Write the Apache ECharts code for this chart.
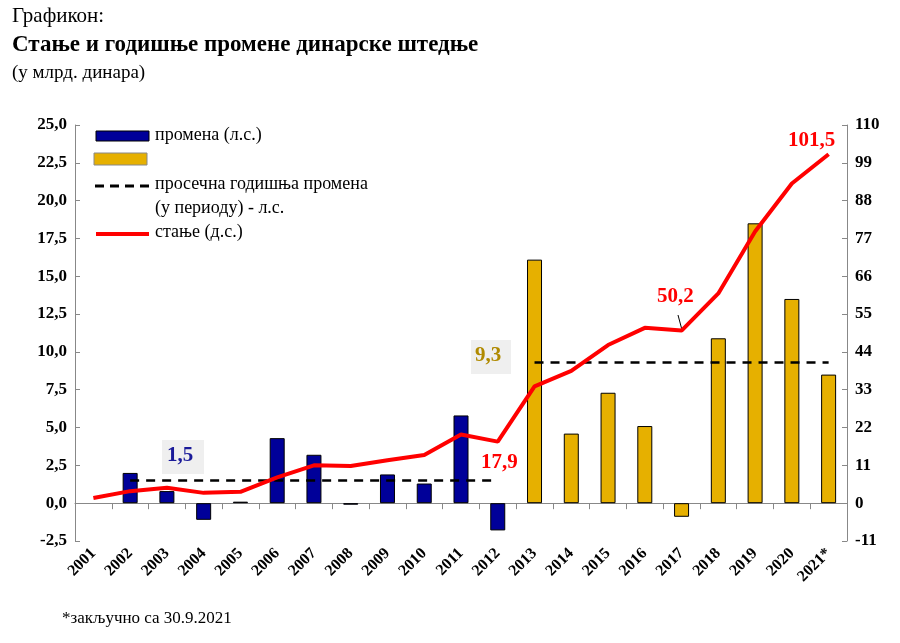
<!DOCTYPE html>
<html><head><meta charset="utf-8">
<script src="https://cdn.jsdelivr.net/npm/echarts@6/dist/echarts.min.js"></script>
<style>html,body{margin:0;padding:0;background:#fff}#c{width:900px;height:643px}</style>
</head><body><div id="c"></div>
<script>
const categories = ['2001','2002','2003','2004','2005','2006','2007','2008','2009','2010','2011','2012','2013','2014','2015','2016','2017','2018','2019','2020','2021*'];
const changeValues = [null,2.0,0.8,-1.1,0.1,4.3,3.2,-0.1,1.9,1.3,5.8,-1.8,16.1,4.6,7.3,5.1,-0.9,10.9,18.5,13.5,8.5];
const stockValues = [1.5,3.5,4.5,3.0,3.3,7.5,11.0,10.8,12.5,14.0,20.0,17.9,34.0,38.5,46.0,51.0,50.2,61.0,79.0,93.0,101.5];
const avgPeriod1 = [null,1.5,1.5,1.5,1.5,1.5,1.5,1.5,1.5,1.5,1.5,1.5,null,null,null,null,null,null,null,null,null];
const avgPeriod2 = [null,null,null,null,null,null,null,null,null,null,null,null,9.3,9.3,9.3,9.3,9.3,9.3,9.3,9.3,9.3];
const leftTicks = {min:-2.5,max:25,interval:2.5};
const rightTicks = {min:-11,max:110,interval:11};
const F = 'Liberation Serif';
const blue = '#000099', gold = '#E6B000', red = '#FF0000';
const chart = echarts.init(document.getElementById('c'));
const barData = changeValues.map((v,i)=>({value:v,itemStyle:{color: i<=11?blue:gold}}));
chart.setOption({
  animation:false,
  textStyle:{fontFamily:F},
  grid:{left:75,right:53,top:125,bottom:102},
  graphic:[
    {type:'text',left:12,top:6,style:{text:'Графикон:',font:'21px '+F,fill:'#000'}},
    {type:'text',left:12,top:34,style:{text:'Стање и годишње промене динарске штедње',font:'bold 23px '+F,fill:'#000'}},
    {type:'text',left:12,top:64,style:{text:'(у млрд. динара)',font:'19px '+F,fill:'#000'}},
    {type:'rect',shape:{x:96,y:131,width:53,height:10},style:{fill:blue,stroke:'#000',lineWidth:1}},
    {type:'text',left:155,top:126,style:{text:'промена (л.с.)',font:'18px '+F,fill:'#000'}},
    {type:'rect',shape:{x:94,y:153,width:53,height:12},style:{fill:gold,stroke:'#888',lineWidth:1}},
    {type:'line',shape:{x1:95,y1:186,x2:149,y2:186},style:{stroke:'#000',lineWidth:3,lineDash:[9,6]}},
    {type:'text',left:155,top:175,style:{text:'просечна годишња промена',font:'18px '+F,fill:'#000'}},
    {type:'text',left:155,top:199,style:{text:'(у периоду) - л.с.',font:'18px '+F,fill:'#000'}},
    {type:'line',shape:{x1:96,y1:234,x2:149,y2:234},style:{stroke:red,lineWidth:4}},
    {type:'text',left:155,top:223,style:{text:'стање (д.с.)',font:'18px '+F,fill:'#000'}},
    {type:'rect',shape:{x:162,y:440,width:42,height:34},style:{fill:'#efefef'}},
    {type:'text',left:167,top:445,style:{text:'1,5',font:'bold 21px '+F,fill:'#1a1a99'}},
    {type:'rect',shape:{x:471,y:340,width:40,height:34},style:{fill:'#efefef'}},
    {type:'text',left:475,top:345,style:{text:'9,3',font:'bold 21px '+F,fill:'#b08a00'}},
    {type:'text',left:481,top:452,style:{text:'17,9',font:'bold 21px '+F,fill:red}},
    {type:'text',left:657,top:286,style:{text:'50,2',font:'bold 21px '+F,fill:red}},
    {type:'line',shape:{x1:678,y1:315,x2:682,y2:330},style:{stroke:'#000',lineWidth:1}},
    {type:'text',left:788,top:130,style:{text:'101,5',font:'bold 21px '+F,fill:red}},
    {type:'text',left:62,top:610,style:{text:'*закључно са 30.9.2021',font:'17px '+F,fill:'#000'}}
  ],
  xAxis:{type:'category',data:categories,
    axisLine:{onZero:true,lineStyle:{color:'#888'}},
    axisTick:{show:true,length:6,inside:false,lineStyle:{color:'#888'}},
    axisLabel:{rotate:45,interval:0,color:'#000',fontWeight:'bold',fontSize:16,fontFamily:F,margin:10}},
  yAxis:[
    {type:'value',min:leftTicks.min,max:leftTicks.max,interval:leftTicks.interval,
     axisLine:{show:true,lineStyle:{color:'#888'}},axisTick:{show:true,inside:true,lineStyle:{color:'#888'}},splitLine:{show:false},
     axisLabel:{color:'#000',fontWeight:'bold',fontSize:17,fontFamily:F,formatter:v=>v.toFixed(1).replace('.',',')}},
    {type:'value',min:rightTicks.min,max:rightTicks.max,interval:rightTicks.interval,
     axisLine:{show:true,lineStyle:{color:'#888'}},axisTick:{show:true,inside:true,lineStyle:{color:'#888'}},splitLine:{show:false},
     axisLabel:{color:'#000',fontWeight:'bold',fontSize:17,fontFamily:F}}
  ],
  series:[
    {type:'bar',data:barData,barWidth:15,itemStyle:{borderColor:'#000',borderWidth:1}},
    {type:'line',data:avgPeriod1,symbol:'none',lineStyle:{color:'#000',width:2.5,type:[9,7]},z:4},
    {type:'line',data:avgPeriod2,symbol:'none',lineStyle:{color:'#000',width:2.5,type:[9,7]},z:4},
    {type:'line',yAxisIndex:1,data:stockValues,symbol:'none',lineStyle:{color:red,width:4},z:5}
  ]
});
</script></body></html>
